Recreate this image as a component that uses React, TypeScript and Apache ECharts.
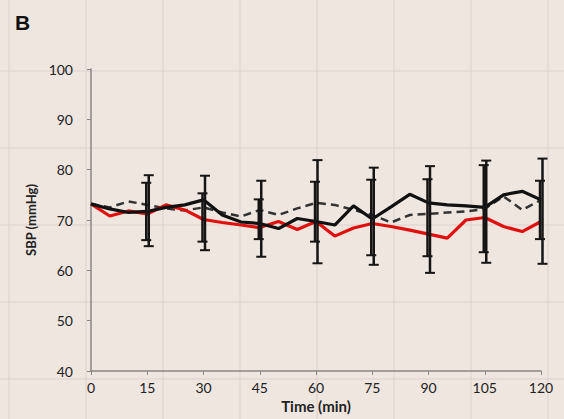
import React, { useEffect, useRef } from "react";
import * as echarts from "echarts";

const times = [0, 5, 10, 15, 20, 25, 30, 35, 40, 45, 50, 55, 60, 65, 70, 75, 80, 85, 90, 95, 100, 105, 110, 115, 120];
const blackSolid = [73.2, 72.2, 71.5, 71.7, 72.5, 73.0, 74.0, 71.0, 69.6, 69.3, 68.3, 70.3, 69.7, 69.0, 72.8, 70.2, 72.6, 75.1, 73.4, 73.0, 72.8, 72.5, 75.0, 75.7, 74.0];
const blackDashed = [73.2, 72.5, 73.7, 73.0, 72.3, 71.9, 72.5, 71.5, 70.7, 72.0, 71.0, 72.3, 73.4, 73.0, 72.0, 71.0, 69.5, 71.0, 71.2, 71.5, 71.7, 72.2, 74.7, 72.0, 74.0];
const redSolid = [73.2, 70.8, 71.8, 71.2, 73.0, 72.0, 70.1, 69.5, 69.0, 68.5, 69.7, 68.1, 69.7, 66.8, 68.4, 69.3, 68.7, 68.0, 67.2, 66.4, 70.0, 70.5, 68.7, 67.7, 69.7];

const errTimes = [15, 30, 45, 60, 75, 90, 105, 120];
const errLowA = [64.8, 64.0, 62.7, 61.4, 61.1, 59.5, 61.5, 61.3];
const errHighA = [78.9, 78.8, 77.8, 81.9, 80.4, 80.7, 81.8, 82.2];
const errLowB = [66.0, 65.7, 66.2, 65.7, 63.0, 62.8, 63.6, 66.2];
const errHighB = [77.4, 75.3, 74.1, 77.6, 78.0, 78.1, 80.9, 77.8];

const xTicks = [0, 15, 30, 45, 60, 75, 90, 105, 120];
const yTicks = [40, 50, 60, 70, 80, 90, 100];

const FONT = "Lato, 'Open Sans', sans-serif";

function errSeries(lows: number[], highs: number[], dx: number) {
  return {
    type: "custom",
    z: 5,
    data: errTimes.map((t, i) => [t, lows[i], highs[i]]),
    renderItem: (params: any, api: any) => {
      const lo = api.coord([api.value(0), api.value(1)]);
      const hi = api.coord([api.value(0), api.value(2)]);
      const x = lo[0] + dx;
      const cw = 5;
      const st = { stroke: "#151515", lineWidth: 2.5 };
      return {
        type: "group",
        children: [
          { type: "line", shape: { x1: x, y1: lo[1], x2: x, y2: hi[1] }, style: st },
          { type: "line", shape: { x1: x - cw, y1: lo[1], x2: x + cw, y2: lo[1] }, style: { stroke: "#151515", lineWidth: 2 } },
          { type: "line", shape: { x1: x - cw, y1: hi[1], x2: x + cw, y2: hi[1] }, style: { stroke: "#151515", lineWidth: 2 } },
        ],
      };
    },
  };
}

export default function App() {
  const ref = useRef<HTMLDivElement>(null);
  useEffect(() => {
    if (!ref.current) return;
    const chart = echarts.init(ref.current, null, { renderer: "svg" });
    const bgLines: any[] = [];
    const gx = [9, 86, 163, 240, 317, 394, 471, 548];
    const gy = [71, 148, 225, 302, 379];
    gx.forEach((x) => bgLines.push({ type: "line", z: -10, shape: { x1: x, y1: 0, x2: x, y2: 419 }, style: { stroke: "#dcd1cf", lineWidth: 1 } }));
    gy.forEach((y) => bgLines.push({ type: "line", z: -10, shape: { x1: 0, y1: y, x2: 564, y2: y }, style: { stroke: "#dcd1cf", lineWidth: 1 } }));
    chart.setOption({
      animation: false,
      backgroundColor: "#efe6e0",
      graphic: [
        ...bgLines,
        { type: "text", left: 15, top: 12, style: { text: "B", font: `bold 21px 'Liberation Sans', Arial, sans-serif`, fill: "#111" } },
      ],
      grid: { left: 91, right: 23, top: 69, bottom: 48 },
      xAxis: {
        type: "value",
        min: 0,
        max: 120,
        interval: 15,
        name: "Time (min)",
        nameLocation: "middle",
        nameGap: 27,
        nameTextStyle: { fontFamily: FONT, fontWeight: "bold", fontSize: 15, color: "#222" },
        axisLine: { lineStyle: { color: "#8a8585", width: 1.5 } },
        axisTick: { show: true, length: 4, lineStyle: { color: "#8a8585" } },
        splitLine: { show: false },
        axisLabel: {
          fontFamily: FONT,
          fontSize: 14,
          color: "#222",
          margin: 9,
          formatter: (v: number) => (xTicks.includes(v) ? String(v) : ""),
        },
      },
      yAxis: {
        type: "value",
        min: 40,
        max: 100,
        interval: 10,
        name: "SBP (mmHg)",
        nameLocation: "middle",
        nameGap: 50,
        nameTextStyle: { fontFamily: FONT, fontWeight: "bold", fontSize: 13, color: "#222" },
        axisLine: { show: true, lineStyle: { color: "#8a8585", width: 1.5 } },
        axisTick: { show: true, length: 4, lineStyle: { color: "#8a8585" } },
        splitLine: { show: false },
        axisLabel: {
          fontFamily: FONT,
          fontSize: 14,
          color: "#222",
          margin: 18,
          formatter: (v: number) => (yTicks.includes(v) ? String(v) : ""),
        },
      },
      series: [
        errSeries(errLowA, errHighA, 1.5),
        errSeries(errLowB, errHighB, -1),
        {
          type: "line",
          z: 3,
          data: times.map((t, i) => [t, blackDashed[i]]),
          symbol: "none",
          lineStyle: { color: "#333", width: 2.5, type: [8, 5] },
        },
        {
          type: "line",
          z: 4,
          data: times.map((t, i) => [t, redSolid[i]]),
          symbol: "none",
          lineStyle: { color: "#e0100f", width: 3.2 },
        },
        {
          type: "line",
          z: 4,
          data: times.map((t, i) => [t, blackSolid[i]]),
          symbol: "none",
          lineStyle: { color: "#111", width: 3.2 },
        },
      ],
    });
    return () => chart.dispose();
  }, []);
  return <div ref={ref} style={{ position: "fixed", left: 0, top: 0, width: 564, height: 419 }} />;
}
